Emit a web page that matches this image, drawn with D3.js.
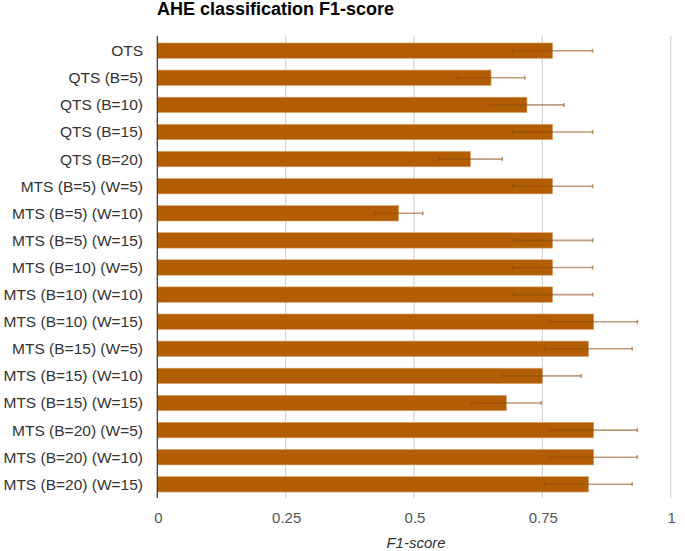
<!DOCTYPE html>
<html><head><meta charset="utf-8">
<script src="https://cdn.jsdelivr.net/npm/d3@7"></script>
<style>body{margin:0;background:#fff}svg{display:block}</style>
</head><body>
<svg id="c" width="685" height="551"></svg>
<script>
const categories = ["OTS","QTS (B=5)","QTS (B=10)","QTS (B=15)","QTS (B=20)",
"MTS (B=5) (W=5)","MTS (B=5) (W=10)","MTS (B=5) (W=15)","MTS (B=10) (W=5)","MTS (B=10) (W=10)",
"MTS (B=10) (W=15)","MTS (B=15) (W=5)","MTS (B=15) (W=10)","MTS (B=15) (W=15)",
"MTS (B=20) (W=5)","MTS (B=20) (W=10)","MTS (B=20) (W=15)"];
const values = [0.77,0.65,0.72,0.77,0.61,0.77,0.47,0.77,0.77,0.77,0.85,0.84,0.75,0.68,0.85,0.85,0.84];
const errors = [0.078,0.066,0.072,0.078,0.062,0.078,0.047,0.078,0.078,0.078,0.085,0.085,0.076,0.068,0.085,0.085,0.085];
const xTicks = [0,0.25,0.5,0.75,1];
const xTickLabels = ["0","0.25","0.5","0.75","1"];

const svg = d3.select("#c");
const m = {left:157.3, right:670.7, top:37, bottom:498};
const x = d3.scaleLinear().domain([0,1]).range([m.left,m.right]);
const y = d3.scaleBand().domain(categories).range([m.top,m.bottom]).paddingInner(0.43).paddingOuter(0.22);
const font = "'Liberation Sans', Arial, sans-serif";

// gridlines
svg.append("g").selectAll("line").data(xTicks.slice(1)).join("line")
  .attr("x1",d=>x(d)).attr("x2",d=>x(d)).attr("y1",m.top-1).attr("y2",m.bottom)
  .attr("stroke","#d3d3d3").attr("stroke-width",1.2);

// bars
svg.append("g").selectAll("rect").data(values).join("rect")
  .attr("x",x(0)).attr("y",(d,i)=>y(categories[i]))
  .attr("width",d=>x(d)-x(0)).attr("height",y.bandwidth())
  .attr("fill","#b35e04").attr("stroke","#d9a576").attr("stroke-width",0.6);

// error bars
const eg = svg.append("g").attr("stroke","#8a4a10").attr("stroke-opacity",0.55).attr("stroke-width",1.6);
values.forEach((v,i)=>{
  const cy = y(categories[i]) + y.bandwidth()/2;
  const lo = x(v-errors[i]), hi = x(v+errors[i]);
  eg.append("line").attr("x1",lo).attr("x2",hi).attr("y1",cy).attr("y2",cy);
  eg.append("line").attr("x1",lo).attr("x2",lo).attr("y1",cy-2).attr("y2",cy+2);
  eg.append("line").attr("x1",hi).attr("x2",hi).attr("y1",cy-2).attr("y2",cy+2);
});

// zero axis line
svg.append("line").attr("x1",x(0)).attr("x2",x(0)).attr("y1",m.top-1).attr("y2",m.bottom)
  .attr("stroke","#333").attr("stroke-width",1.2);

// y labels
svg.append("g").selectAll("text").data(categories).join("text")
  .attr("x",143).attr("y",d=>y(d)+y.bandwidth()/2).attr("dy","0.35em")
  .attr("text-anchor","end").attr("font-family",font).attr("font-size",15.5)
  .attr("fill","#333").text(d=>d);

// x tick labels
svg.append("g").selectAll("text").data(xTicks).join("text")
  .attr("x",d=>x(d)+1).attr("y",523).attr("text-anchor","middle")
  .attr("font-family",font).attr("font-size",15).attr("fill","#555")
  .text((d,i)=>xTickLabels[i]);

// axis title
svg.append("text").attr("x",x(0.5)+2).attr("y",548).attr("text-anchor","middle")
  .attr("font-family",font).attr("font-size",15).attr("font-style","italic").attr("fill","#333")
  .text("F1-score");

// title
svg.append("text").attr("x",157).attr("y",15).attr("font-family",font).attr("font-size",18)
  .attr("font-weight","bold").attr("fill","#000").text("AHE classification F1-score");
</script>
</body></html>
